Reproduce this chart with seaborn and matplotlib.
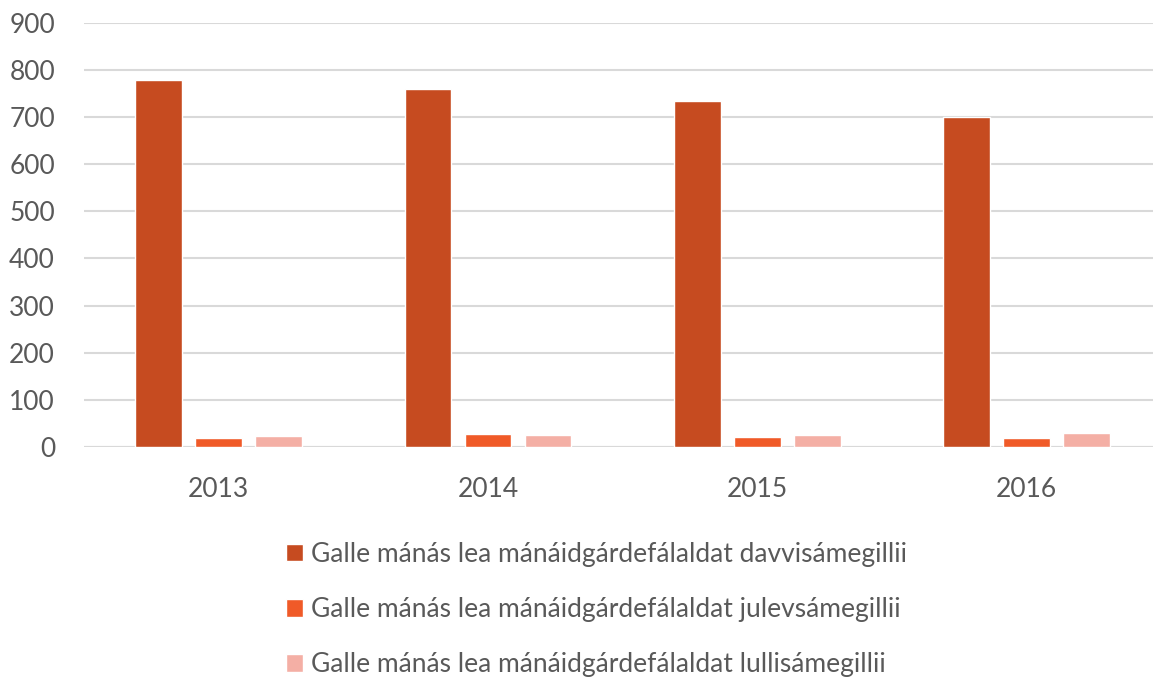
import matplotlib
matplotlib.use("Agg")

import matplotlib.pyplot as plt

import seaborn as sns

import pandas as pd


# ==================================================
# Data
# ==================================================

years = ["2013", "2014", "2015", "2016"]

series_names = [
    "Galle mánás lea mánáidgárdefálaldat davvisámegillii",
    "Galle mánás lea mánáidgárdefálaldat julevsámegillii",
    "Galle mánás lea mánáidgárdefálaldat lullisámegillii",
]

davvi = [779, 761, 735, 700]

julev = [18, 27, 21, 19]

lulli = [23, 25, 25, 29]

colors = ["#C64B20", "#F05A28", "#F4AFA5"]


rows = []

for name, values in zip(series_names, [davvi, julev, lulli]):
    for year, value in zip(years, values):
        rows.append({"year": year, "series": name, "value": value})

df = pd.DataFrame(rows)


# ==================================================
# Plot
# ==================================================

sns.set_style("white")

plt.rcParams["font.family"] = ["Lato", "DejaVu Sans"]

fig = plt.figure(figsize=(11.53, 6.82), dpi=100)

ax = fig.add_axes([0.073, 0.345, 0.934, 0.621])

sns.barplot(
    data=df,
    x="year",
    y="value",
    hue="series",
    palette=colors,
    width=0.669,
    gap=0.22,
    saturation=1,
    ax=ax,
    legend=True
)

ax.set_ylim(0, 900)

ax.set_yticks(range(0, 901, 100))

ax.yaxis.grid(True, color="#D9D9D9", linewidth=1.5)

ax.set_axisbelow(True)

for side in ["top", "right", "left", "bottom"]:
    ax.spines[side].set_visible(False)

ax.axhline(0, color="#D9D9D9", linewidth=1.5, zorder=0)

ax.tick_params(axis="both", length=0, labelsize=19, colors="#595959")

ax.tick_params(axis="x", pad=22)

ax.tick_params(axis="y", pad=21)

ax.set_xlabel("")

ax.set_ylabel("")

handles, labels = ax.get_legend_handles_labels()

ax.get_legend().remove()

fig.legend(
    handles,
    labels,
    loc="upper center",
    bbox_to_anchor=(0.517, 0.225),
    ncol=1,
    frameon=False,
    fontsize=19,
    labelcolor="#595959",
    handlelength=0.65,
    handleheight=0.65,
    handletextpad=0.3,
    labelspacing=1.15,
    borderpad=0
)

fig.savefig("out.png", dpi=100)
